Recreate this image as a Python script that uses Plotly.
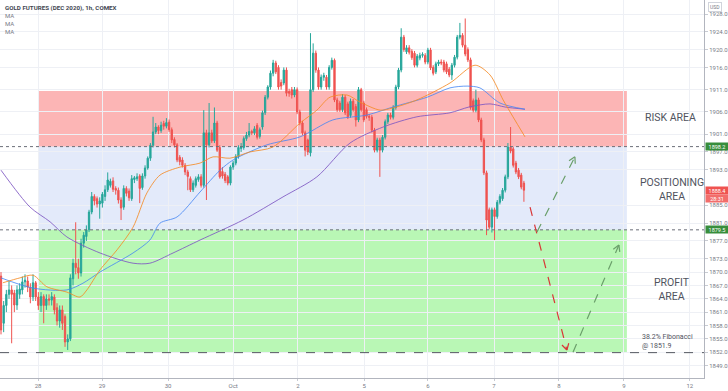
import math
import plotly.graph_objects as go

title_text = "GOLD FUTURES (DEC 2020), 1h, COMEX"
day_labels = ["28", "29", "30", "Oct", "2", "5", "6", "7", "8", "9", "12"]
day_pos = [13.9, 37.9, 62.6, 87.0, 111.3, 136.1, 160.0, 184.8, 209.1, 233.5, 258.2]
price_ticks = [1928, 1924, 1920, 1916, 1911, 1906, 1901, 1897, 1893, 1885,
               1881, 1877, 1873, 1870, 1867, 1864, 1861, 1858, 1855, 1852, 1849]

opens = [1869.1, 1858.5, 1862.5, 1865.0, 1866.0, 1865.3, 1862.6, 1865.0, 1866.0, 1867.8,
         1868.0, 1866.6, 1864.4, 1867.6, 1864.4, 1862.5, 1864.5, 1862.5, 1864.0, 1863.7,
         1864.4, 1862.0, 1859.0, 1861.5, 1860.0, 1854.3, 1855.0, 1868.5, 1872.0, 1871.0,
         1869.8, 1876.5, 1878.0, 1879.5, 1883.5, 1887.0, 1886.5, 1885.3, 1885.5, 1887.0,
         1888.5, 1889.5, 1890.5, 1888.8, 1888.4, 1886.2, 1884.6, 1888.8, 1888.2, 1886.5,
         1890.8, 1891.0, 1891.6, 1889.0, 1891.6, 1893.4, 1895.6, 1898.5, 1901.5, 1902.6,
         1901.8, 1903.4, 1902.8, 1903.7, 1902.0, 1899.8, 1898.6, 1895.8, 1895.2, 1894.0,
         1892.5, 1891.0, 1888.5, 1889.5, 1890.8, 1891.4, 1889.5, 1901.3, 1898.6, 1901.3,
         1899.5, 1903.5, 1898.0, 1892.6, 1892.0, 1891.4, 1890.0, 1893.6, 1894.5, 1896.0,
         1897.8, 1898.0, 1900.0, 1900.8, 1901.6, 1901.3, 1903.0, 1900.5, 1902.6, 1905.8,
         1909.3, 1911.6, 1914.7, 1917.0, 1916.0, 1912.6, 1912.5, 1915.4, 1910.6, 1911.0,
         1909.8, 1911.0, 1906.0, 1903.5, 1901.3, 1899.7, 1896.8, 1911.0, 1919.2, 1915.4,
         1911.6, 1913.8, 1913.8, 1911.6, 1916.0, 1917.6, 1908.7, 1908.0, 1906.5, 1909.3,
         1907.8, 1905.2, 1908.4, 1907.2, 1904.2, 1911.0, 1908.0, 1906.5, 1905.0, 1904.8,
         1901.9, 1897.4, 1899.7, 1897.4, 1900.3, 1903.8, 1905.3, 1904.8, 1907.0, 1911.6,
         1915.4, 1922.8, 1919.5, 1920.4, 1919.6, 1919.2, 1916.5, 1918.1, 1918.7, 1918.7,
         1917.2, 1919.9, 1916.0, 1915.0, 1916.8, 1917.2, 1917.2, 1916.8, 1915.6, 1914.3,
         1916.5, 1918.3, 1922.8, 1923.2, 1921.0, 1920.0, 1917.7, 1908.5, 1906.4, 1908.7,
         1904.2, 1899.7, 1892.3, 1884.0, 1880.1, 1884.0, 1882.5, 1885.7, 1886.5, 1888.4,
         1891.4, 1898.1, 1897.7, 1894.5, 1892.9, 1891.8, 1890.0]
highs = [1870.0, 1863.5, 1866.0, 1868.0, 1867.0, 1866.0, 1867.0, 1867.5, 1869.0, 1869.5,
         1869.0, 1867.5, 1869.5, 1868.0, 1865.5, 1865.5, 1865.0, 1865.0, 1865.0, 1865.5,
         1865.0, 1863.0, 1862.5, 1862.5, 1860.5, 1856.0, 1869.5, 1873.0, 1881.2, 1873.0,
         1877.5, 1879.0, 1880.5, 1884.0, 1888.0, 1887.5, 1887.0, 1886.8, 1888.0, 1889.5,
         1892.4, 1891.0, 1891.3, 1889.3, 1889.0, 1886.8, 1889.5, 1889.3, 1888.8, 1891.8,
         1891.6, 1892.2, 1892.0, 1892.2, 1894.0, 1896.0, 1899.0, 1904.9, 1903.5, 1903.0,
         1903.8, 1904.0, 1904.6, 1904.3, 1902.5, 1900.3, 1899.0, 1896.3, 1895.8, 1894.5,
         1893.0, 1891.5, 1890.6, 1891.5, 1892.0, 1892.0, 1906.4, 1902.0, 1908.0, 1902.0,
         1907.0, 1904.0, 1898.5, 1893.6, 1892.5, 1891.8, 1894.0, 1895.0, 1896.5, 1898.5,
         1899.0, 1900.5, 1901.5, 1903.5, 1902.0, 1902.8, 1903.5, 1902.5, 1906.3, 1909.8,
         1912.0, 1915.3, 1917.7, 1917.5, 1916.5, 1913.3, 1916.0, 1916.0, 1911.2, 1911.6,
         1911.6, 1911.5, 1906.5, 1904.0, 1901.8, 1900.0, 1923.7, 1921.4, 1919.8, 1916.0,
         1914.4, 1914.8, 1914.3, 1916.5, 1918.2, 1918.0, 1909.2, 1908.5, 1910.0, 1909.8,
         1908.3, 1909.0, 1908.9, 1907.8, 1911.6, 1911.4, 1908.5, 1907.0, 1905.5, 1905.3,
         1902.4, 1900.2, 1900.2, 1900.8, 1904.3, 1905.8, 1905.8, 1907.5, 1912.1, 1915.9,
         1924.8, 1923.3, 1921.0, 1921.0, 1920.1, 1919.7, 1919.0, 1919.3, 1919.4, 1919.2,
         1920.4, 1920.4, 1916.5, 1917.3, 1917.7, 1917.8, 1917.7, 1917.3, 1916.1, 1917.0,
         1918.8, 1923.3, 1926.0, 1923.7, 1927.0, 1920.5, 1918.2, 1909.0, 1911.0, 1909.2,
         1904.7, 1900.2, 1892.8, 1884.5, 1884.5, 1884.5, 1886.2, 1887.5, 1888.9, 1891.9,
         1899.0, 1902.6, 1898.2, 1895.0, 1893.4, 1892.3, 1890.5]
lows = [1856.0, 1856.5, 1861.0, 1864.0, 1854.0, 1861.0, 1861.5, 1864.0, 1865.0, 1866.5,
        1865.5, 1863.0, 1863.5, 1863.5, 1861.5, 1861.0, 1858.5, 1861.5, 1862.5, 1862.5,
        1860.5, 1858.0, 1857.5, 1857.0, 1853.2, 1852.5, 1854.5, 1867.0, 1869.5, 1868.5,
        1869.0, 1875.5, 1877.0, 1879.0, 1883.0, 1885.0, 1884.5, 1882.0, 1884.5, 1886.0,
        1888.0, 1889.0, 1888.0, 1887.4, 1885.4, 1881.7, 1884.0, 1887.0, 1886.0, 1886.0,
        1890.0, 1890.5, 1885.5, 1888.5, 1891.0, 1893.0, 1895.0, 1898.0, 1901.0, 1901.0,
        1901.3, 1902.0, 1902.3, 1901.5, 1899.0, 1898.0, 1894.7, 1894.0, 1893.5, 1891.8,
        1888.4, 1888.0, 1888.0, 1889.0, 1890.3, 1889.0, 1889.0, 1886.2, 1898.0, 1899.0,
        1899.0, 1897.0, 1891.0, 1891.0, 1890.0, 1889.5, 1889.5, 1893.0, 1894.0, 1895.5,
        1897.0, 1897.5, 1899.5, 1900.3, 1900.8, 1900.8, 1899.8, 1900.0, 1902.0, 1905.3,
        1908.8, 1911.0, 1914.0, 1914.5, 1911.0, 1911.0, 1912.0, 1909.5, 1909.4, 1909.0,
        1909.3, 1905.5, 1903.0, 1900.8, 1896.0, 1896.3, 1896.0, 1910.5, 1914.8, 1911.0,
        1911.0, 1913.0, 1911.0, 1911.0, 1915.5, 1908.2, 1906.0, 1906.0, 1906.0, 1905.3,
        1904.4, 1904.7, 1906.0, 1902.7, 1903.7, 1906.0, 1903.7, 1904.5, 1904.0, 1901.4,
        1896.9, 1896.9, 1891.4, 1896.9, 1899.8, 1903.3, 1904.3, 1904.3, 1906.5, 1911.1,
        1914.9, 1919.5, 1919.0, 1918.9, 1917.7, 1916.0, 1916.0, 1917.6, 1918.2, 1916.7,
        1916.7, 1915.4, 1914.2, 1914.5, 1916.3, 1916.5, 1914.9, 1914.5, 1913.8, 1913.2,
        1916.0, 1917.8, 1922.3, 1920.5, 1918.5, 1917.2, 1906.5, 1905.9, 1905.9, 1903.7,
        1899.2, 1891.8, 1878.3, 1879.6, 1878.9, 1877.2, 1882.0, 1885.2, 1886.0, 1887.9,
        1890.9, 1896.7, 1893.5, 1892.0, 1890.9, 1888.6, 1885.8]
closes = [1857.0, 1862.5, 1865.0, 1866.0, 1865.0, 1862.6, 1866.0, 1866.2, 1867.8, 1868.2,
          1866.6, 1864.4, 1867.6, 1864.4, 1862.5, 1864.5, 1862.5, 1864.0, 1863.7, 1864.5,
          1861.5, 1859.0, 1861.5, 1858.5, 1854.3, 1855.0, 1868.7, 1872.0, 1871.0, 1869.8,
          1876.5, 1878.3, 1879.5, 1883.5, 1887.0, 1886.0, 1885.3, 1886.0, 1887.5, 1888.5,
          1890.7, 1890.4, 1888.6, 1888.4, 1886.2, 1884.4, 1888.8, 1887.7, 1886.7, 1891.0,
          1891.2, 1891.4, 1888.8, 1891.6, 1893.4, 1895.6, 1898.5, 1901.5, 1902.6, 1901.8,
          1903.0, 1902.8, 1903.6, 1902.0, 1899.7, 1898.6, 1895.2, 1894.8, 1894.0, 1892.5,
          1891.5, 1888.5, 1890.0, 1891.0, 1891.4, 1889.5, 1901.3, 1898.6, 1901.3, 1899.5,
          1903.5, 1897.4, 1891.4, 1891.6, 1890.6, 1890.0, 1893.6, 1894.5, 1896.0, 1898.0,
          1898.2, 1900.0, 1900.8, 1901.6, 1901.3, 1902.2, 1900.3, 1902.0, 1905.8, 1909.3,
          1911.6, 1914.7, 1917.0, 1915.0, 1911.6, 1911.8, 1915.4, 1910.2, 1910.2, 1909.8,
          1911.0, 1906.0, 1903.5, 1901.3, 1897.4, 1897.0, 1911.0, 1919.2, 1915.4, 1911.6,
          1913.8, 1914.2, 1911.6, 1916.0, 1917.6, 1908.7, 1906.5, 1906.5, 1909.3, 1905.8,
          1904.9, 1908.4, 1906.5, 1904.2, 1911.0, 1906.5, 1904.2, 1905.0, 1904.8, 1901.9,
          1897.4, 1899.7, 1897.4, 1900.3, 1903.8, 1905.3, 1904.8, 1907.0, 1911.6, 1915.4,
          1922.8, 1920.0, 1920.4, 1919.4, 1918.2, 1916.5, 1918.5, 1918.7, 1918.9, 1917.2,
          1919.9, 1915.9, 1914.7, 1916.8, 1917.2, 1917.0, 1915.4, 1915.0, 1914.3, 1916.5,
          1918.3, 1922.8, 1923.2, 1921.0, 1919.0, 1917.7, 1907.0, 1906.4, 1908.7, 1904.2,
          1899.7, 1892.3, 1881.7, 1880.1, 1884.0, 1882.5, 1885.7, 1887.0, 1888.4, 1891.4,
          1898.1, 1897.2, 1894.0, 1892.5, 1891.4, 1889.1, 1888.4]

ma_fast_bars = [0.7, 7.1, 12.0, 17.2, 24.7, 29.6, 32.2, 37.1, 43.5, 49.5, 54.7, 59.6, 67.1,
                74.6, 79.5, 85.8, 93.3, 101.9, 112.1, 118.4, 123.3, 129.7, 134.6, 142.1,
                146.9, 155.9, 168.3, 177.7, 183.3, 188.2, 191.9, 196.4]
ma_fast_vals = [1867.6, 1868.7, 1869.3, 1866.7, 1865.5, 1864.4, 1866.0, 1870.5, 1875.0,
                1880.1, 1887.8, 1891.8, 1893.6, 1894.5, 1895.9, 1895.6, 1897.0, 1898.1,
                1903.5, 1906.4, 1909.3, 1909.8, 1908.2, 1906.4, 1906.9, 1908.7, 1912.5,
                1916.5, 1914.3, 1908.7, 1904.9, 1900.4]
ma_mid_bars = [0.0, 12.0, 24.7, 30.7, 37.1, 49.5, 55.8, 59.6, 66.0, 74.6, 82.1, 87.0, 99.7,
               112.1, 124.4, 137.2, 146.9, 159.7, 168.3, 174.7, 179.5, 187.0, 196.4]
ma_mid_vals = [1868.7, 1866.4, 1866.0, 1867.5, 1870.0, 1874.3, 1877.2, 1881.0, 1882.4,
               1888.0, 1892.9, 1895.2, 1898.6, 1900.4, 1904.2, 1905.3, 1907.1, 1909.3,
               1911.4, 1911.8, 1911.4, 1908.0, 1906.6]
ma_slow_bars = [0.0, 10.9, 18.4, 24.7, 37.1, 49.5, 55.8, 64.5, 74.6, 90.7, 105.7, 118.4,
                130.8, 143.2, 155.9, 168.3, 175.4, 183.3, 188.9, 196.4]
ma_slow_vals = [1892.9, 1884.6, 1881.3, 1877.9, 1874.3, 1872.0, 1872.0, 1874.3, 1877.2,
                1881.7, 1886.9, 1891.4, 1899.0, 1902.6, 1904.9, 1905.8, 1907.1, 1907.8,
                1907.1, 1906.6]

risk_zone = [1898.2, 1910.7]
positioning_zone = [1879.5, 1898.2]
profit_zone = [1851.9, 1879.5]
zone_span = [13.9, 234.6]
level_upper = 1898.2
level_lower = 1879.5
fib_level = 1851.9
last_price = 1888.4
countdown = "28:31"

red_arrow = [(198.3, 1884.6), (212.1, 1852.5)]
green_arrow_up1 = [(200.9, 1879.0), (215.1, 1895.9)]
green_arrow_up2 = [(214.4, 1852.0), (231.6, 1876.1)]

# ---------------- figure ----------------
W, H = 728, 391
ml, mr, mt, mb = 0, 24, 0, 13
pw, ph = W - ml - mr, H - mt - mb
x_range = [-0.375, 263.5]
y_range = [1846.2, 1931.15]
sx = pw / (x_range[1] - x_range[0])
sy = ph / (y_range[1] - y_range[0])

FONT = "Roboto"
GRAY = "#787b86"

fig = go.Figure()
n = len(opens)
fig.add_trace(go.Candlestick(
    x=list(range(n)), open=opens, high=highs, low=lows, close=closes,
    increasing=dict(line=dict(color="#26a69a", width=1), fillcolor="#26a69a"),
    decreasing=dict(line=dict(color="#ef5350", width=1), fillcolor="#ef5350"),
    whiskerwidth=0, hoverinfo="skip", showlegend=False))

for bars, vals, col in [(ma_slow_bars, ma_slow_vals, "rgba(126,87,194,0.85)"),
                        (ma_mid_bars, ma_mid_vals, "rgba(66,133,244,0.8)"),
                        (ma_fast_bars, ma_fast_vals, "rgba(245,140,40,0.85)")]:
    fig.add_trace(go.Scatter(x=bars, y=vals, mode="lines",
                             line=dict(color=col, width=1, shape="spline", smoothing=0.8),
                             hoverinfo="skip", showlegend=False))

shapes = []
for (y0, y1), fill in [(risk_zone, "rgba(250,120,120,0.55)"),
                       (positioning_zone, "rgba(100,140,230,0.18)"),
                       (profit_zone, "rgba(80,235,70,0.40)")]:
    shapes.append(dict(type="rect", xref="x", yref="y", x0=zone_span[0], x1=zone_span[1],
                       y0=y0, y1=y1, fillcolor=fill, line=dict(width=0), layer="below"))
for lv in (level_upper, level_lower):
    shapes.append(dict(type="line", xref="paper", yref="y", x0=0, x1=1, y0=lv, y1=lv,
                       line=dict(color="#6a6d78", width=1, dash="dot"), layer="above"))
shapes.append(dict(type="line", xref="paper", yref="y", x0=0, x1=1, y0=fib_level, y1=fib_level,
                   line=dict(color="#555861", width=1, dash="dash"), layer="above"))


def add_arrow(pts, color):
    (x0, y0), (x1, y1) = pts
    shapes.append(dict(type="line", xref="x", yref="y", x0=x0, y0=y0, x1=x1, y1=y1,
                       line=dict(color=color, width=1.2, dash="dash")))
    dxp, dyp = (x1 - x0) * sx, -(y1 - y0) * sy
    L = math.hypot(dxp, dyp)
    bx, by = -dxp / L, -dyp / L
    for s in (1, -1):
        a = math.radians(30 * s)
        rx = bx * math.cos(a) - by * math.sin(a)
        ry = bx * math.sin(a) + by * math.cos(a)
        shapes.append(dict(type="line", xref="x", yref="y", x0=x1, y0=y1,
                           x1=x1 + rx * 7 / sx, y1=y1 - ry * 7 / sy,
                           line=dict(color=color, width=1.2)))


add_arrow(red_arrow, "#d93636")
add_arrow(green_arrow_up1, "#6a9f6a")
add_arrow(green_arrow_up2, "#6a9f6a")

ann = []
ann.append(dict(xref="paper", yref="paper", x=0.004, y=1, yshift=-2, xanchor="left", yanchor="top",
                text="<b>" + title_text + "</b>", showarrow=False,
                font=dict(family=FONT, size=6.2, color="#434651")))
for k in range(3):
    ann.append(dict(xref="paper", yref="paper", x=0.004, y=1, yshift=-10 - 8 * k,
                    xanchor="left", yanchor="top", text="MA", showarrow=False,
                    font=dict(family=FONT, size=6, color=GRAY)))

lab_font = dict(family=FONT, size=10.5, color="#50535e")
ann.append(dict(xref="paper", yref="y", x=670 / pw, y=sum(risk_zone) / 2 + 0.2, text="RISK AREA",
                showarrow=False, font=lab_font, xanchor="center"))
ann.append(dict(xref="paper", yref="y", x=672 / pw, y=1888.6, text="POSITIONING<br>AREA",
                showarrow=False, font=lab_font, xanchor="center"))
ann.append(dict(xref="paper", yref="y", x=672 / pw, y=1866.0, text="PROFIT<br>AREA",
                showarrow=False, font=lab_font, xanchor="center"))
ann.append(dict(xref="paper", yref="y", x=640 / pw, y=1854.4,
                text="38.2% Fibonacci<br>@ " + f"{fib_level:.1f}", align="left",
                showarrow=False, xanchor="left", font=dict(family=FONT, size=7, color="#50535e")))

box = dict(xref="paper", yref="y", x=1, xshift=1, xanchor="left", showarrow=False,
           width=22, height=7, borderpad=0)
for lv in (level_upper, level_lower):
    ann.append(dict(box, y=lv, text=f"{lv:.1f}", bgcolor="#388e3c",
                    font=dict(family=FONT, size=5.5, color="white")))
ann.append(dict(box, y=last_price, text=f"{last_price:.1f}", bgcolor="#ef5350",
                font=dict(family=FONT, size=5.5, color="white")))
ann.append(dict(box, y=last_price - 8.5 / sy, text=countdown, bgcolor="#f26d6b",
                font=dict(family=FONT, size=5.5, color="white")))
ann.append(dict(xref="paper", yref="paper", x=1, xshift=4, y=1, yshift=-2, xanchor="left",
                yanchor="top", text="USD", showarrow=False, bordercolor="#d1d4dc", borderwidth=1,
                borderpad=1, font=dict(family=FONT, size=5, color=GRAY)))

fig.update_layout(
    width=W, height=H, margin=dict(l=ml, r=mr, t=mt, b=mb),
    paper_bgcolor="white", plot_bgcolor="white", showlegend=False,
    shapes=shapes, annotations=ann,
    xaxis=dict(range=x_range, rangeslider=dict(visible=False), tickvals=day_pos,
               ticktext=day_labels, tickfont=dict(family=FONT, size=6, color=GRAY),
               showgrid=True, gridcolor="#eef0f5", ticks="outside", ticklen=2,
               tickcolor="#c8cbd2", showline=True, linecolor="#b2b5be", zeroline=False),
    yaxis=dict(range=y_range, side="right", tickvals=price_ticks,
               ticktext=[f"{v:.1f}" for v in price_ticks],
               tickfont=dict(family=FONT, size=6, color=GRAY), showgrid=True,
               gridcolor="#eef0f5", ticks="outside", ticklen=3, tickcolor="#c8cbd2",
               showline=True, linecolor="#b2b5be", zeroline=False),
)

fig.write_html("out.html", config={"displayModeBar": False},
               post_script="document.body.style.margin='0';document.body.style.overflow='hidden';")
